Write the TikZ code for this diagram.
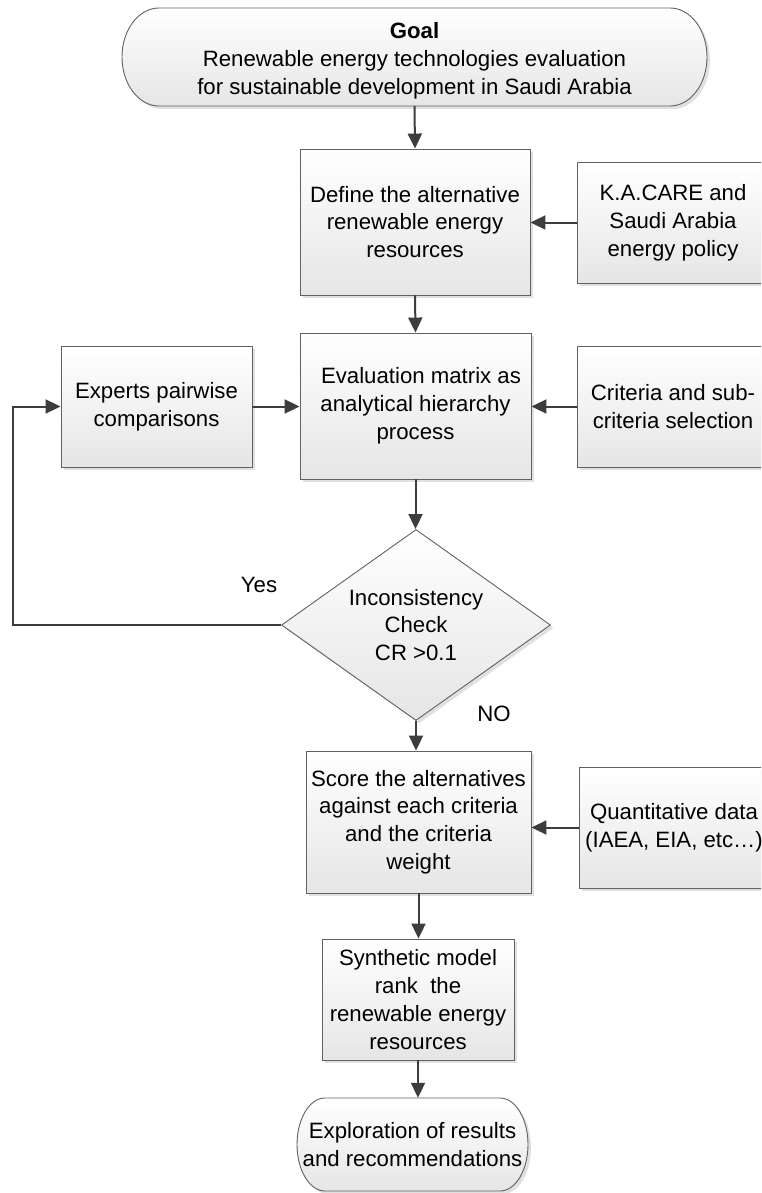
\documentclass[tikz,border=0pt]{standalone}
\usepackage{fontspec}
\setmainfont{Liberation Sans}
\usetikzlibrary{shapes.geometric,shadows,arrows.meta,calc}

\newcommand\flowfont{\fontsize{22.2}{27.8}\selectfont}

\tikzset{
  shade/.style={top color=white, bottom color=black!10},
  outline/.style={draw=black!62, line width=0.9pt},
  softshadow/.style={drop shadow={shadow xshift=3pt, shadow yshift=-3pt, fill=black!24}},
  procbox/.style={rectangle, outline, shade, softshadow, align=center,
                  inner sep=0pt, font=\flowfont},
  decision/.style={diamond, outline, shade, softshadow, align=center,
                   inner sep=0pt, font=\flowfont},
  caption/.style={inner sep=0pt, align=center, font=\flowfont},
  flow/.style={draw=black!76, line width=2pt,
               -{Triangle[length=15pt,width=14pt]}},
}

\begin{document}
\begin{tikzpicture}[x=1pt, y=1pt]
  \useasboundingbox (0,0) rectangle (761,-1193);
  \clip (0,0) rectangle (761,-1193);

  % goal terminal: a bar with half-elliptic ends
  \path[outline, shade, softshadow]
    (159,-8) -- (670,-8)
    arc[start angle=90, end angle=-90, x radius=37pt, y radius=49pt]
    -- (159,-106)
    arc[start angle=270, end angle=90, x radius=37pt, y radius=49pt]
    -- cycle;
  \node[caption, minimum width=585pt, minimum height=98pt] (goal) at (414.5,-57) {};
  \node[caption] (goaltext) at ($(goal.center)+(0,-4)$)
    {\textbf{Goal}\\Renewable energy technologies evaluation\\for sustainable development in Saudi Arabia};

  % process steps
  \node[procbox, minimum width=230pt, minimum height=146pt] (def) at (415,-222)
    {Define the alternative\\renewable energy\\resources};
  \node[procbox, minimum width=192pt, minimum height=121pt] (kac) at (673,-222.5)
    {K.A.CARE and\\Saudi Arabia\\energy policy};
  \node[procbox, minimum width=231pt, minimum height=146pt] (eval) at (415.5,-406)
    {\hspace*{11pt}Evaluation matrix as\\analytical hierarchy\\process};
  \node[procbox, minimum width=191pt, minimum height=121pt] (exp) at (156.5,-406.5)
    {Experts pairwise\\comparisons};
  \node[procbox, minimum width=192pt, minimum height=121pt] (crit) at (673,-406.5)
    {Criteria and sub-\\criteria selection};
  \node[decision, minimum width=269pt, minimum height=191pt, aspect=1.41] (chk) at (416,-625)
    {Inconsistency\\Check\\CR >0.1};
  \node[procbox, minimum width=225pt, minimum height=142pt] (score) at (418.5,-822)
    {Score the alternatives\\against each criteria\\and the criteria\\weight};
  \node[procbox, minimum width=190pt, minimum height=121pt] (quant) at (674,-827.5)
    {Quantitative data\\(IAEA, EIA, etc…)};
  \node[procbox, minimum width=192pt, minimum height=121pt] (synth) at (418,-999.5)
    {Synthetic model\\rank\ \ the\\renewable energy\\resources};

  % final terminal
  \path[outline, shade, softshadow]
    (325,-1098) -- (500,-1098)
    arc[start angle=90, end angle=-90, x radius=28pt, y radius=46.5pt]
    -- (325,-1191)
    arc[start angle=270, end angle=90, x radius=28pt, y radius=46.5pt]
    -- cycle;
  \node[caption, minimum width=231pt, minimum height=93pt] (term) at (412.5,-1144.5)
    {Exploration of results\\and recommendations};

  % branch labels
  \node[caption] (yes) at (259,-585) {Yes};
  \node[caption] (no) at (494,-714) {NO};

  % connectors
  \draw[flow] (goal.south) -- (def.north);
  \draw[flow] (kac.west) -- (kac.west -| def.east);
  \draw[flow] (def.south) -- (eval.north);
  \draw[flow] (exp.east) -- (eval.west |- exp.east);
  \draw[flow] (crit.west) -- (eval.east |- crit.west);
  \draw[flow] (eval.south) -- (eval.south |- chk.north);
  \coordinate (loop) at (13,-625);
  \draw[flow] (chk.west) -- (loop) |- (exp.west);
  \draw[flow] (chk.south) -- (chk.south |- score.north);
  \draw[flow] (quant.west) -- (quant.west -| score.east);
  \draw[flow] (score.south) -- (score.south |- synth.north);
  \draw[flow] (synth.south) -- (synth.south |- term.north);
\end{tikzpicture}
\end{document}
